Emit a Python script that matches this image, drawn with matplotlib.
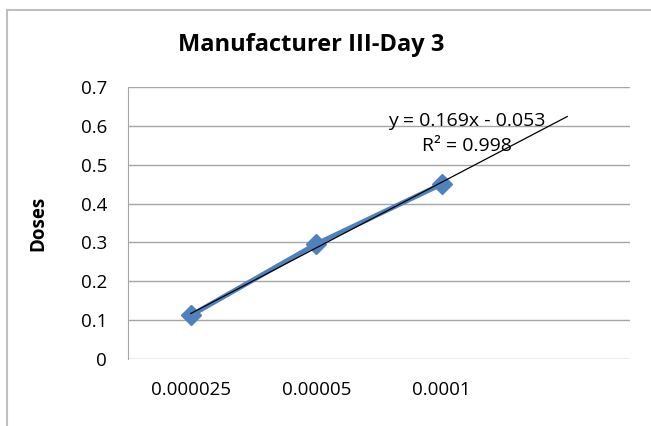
import matplotlib.pyplot as plt
import numpy as np

# data
concentrations = ['0.000025', '0.00005', '0.0001']
doses = [0.112, 0.296, 0.450]
y_ticks = [0, 0.1, 0.2, 0.3, 0.4, 0.5, 0.6, 0.7]
equation_text = 'y = 0.169x - 0.053'
r2_text = 'R² = 0.998'

plt.rcParams['font.family'] = ['Open Sans', 'DejaVu Sans']

fig = plt.figure(figsize=(6.51, 4.26), dpi=100)
ax = fig.add_axes([128 / 651, 1 - 359 / 426, 502 / 651, 272 / 426])

# category positions like Excel's line chart
x = np.arange(1, len(doses) + 1)
ax.plot(x, doses, color='#4F81BD', lw=3.5, marker='D', markersize=10,
        markeredgecolor='#4F81BD', zorder=3)

# linear trendline, forecast forward one period
slope, intercept = np.polyfit(x, doses, 1)
xt = np.array([1, len(doses) + 1])
ax.plot(xt, slope * xt + intercept, color='black', lw=0.9, zorder=4)

ax.text(3.2, 0.613, equation_text, ha='center', va='center', fontsize=14)
ax.text(3.2, 0.548, r2_text, ha='center', va='center', fontsize=14)

ax.set_xlim(0.5, 4.5)
ax.set_ylim(0, 0.7)
ax.set_xticks(x)
ax.set_xticklabels(concentrations, fontsize=13.5)
ax.set_yticks(y_ticks)
ax.set_yticklabels([f'{v:g}' for v in y_ticks], fontsize=13.5)
ax.tick_params(axis='x', length=0, pad=16)
ax.tick_params(axis='y', length=0, pad=15)
ax.grid(axis='y', color='#A6A6A6', lw=1)
ax.set_axisbelow(True)
for side in ['top', 'right', 'bottom']:
    ax.spines[side].set_visible(False)
ax.spines['left'].set_color('#A6A6A6')

ax.set_ylabel('Doses', fontsize=13.5, fontweight='bold')
ax.yaxis.set_label_coords(-0.159, 0.5)
fig.text(311 / 651, 1 - 45 / 426, 'Manufacturer III-Day 3', ha='center',
         va='center', fontsize=17, fontweight='bold')

# outer chart border
fig.add_artist(plt.Line2D([7 / 651, 1], [1 - 10 / 426] * 2, color='#BFBFBF', lw=1.5))
fig.add_artist(plt.Line2D([7 / 651] * 2, [1 - 10 / 426, 0], color='#BFBFBF', lw=1.5))

fig.savefig('out.png', dpi=100)
